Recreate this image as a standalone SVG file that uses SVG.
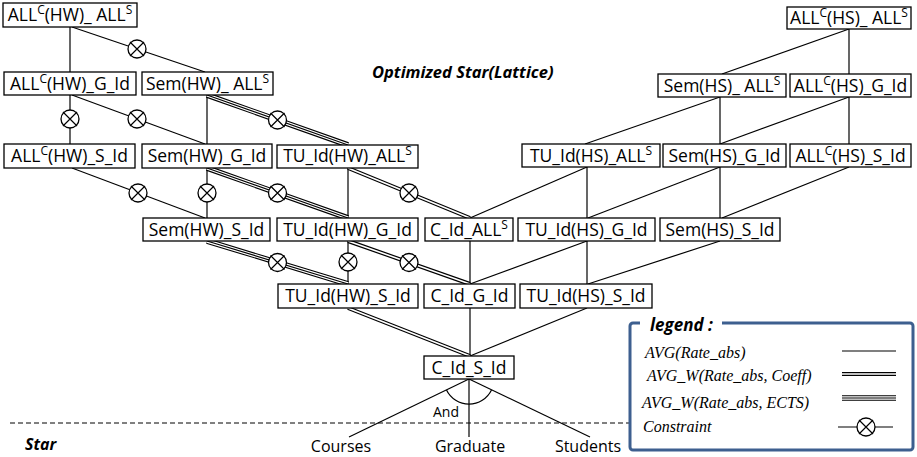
<svg xmlns="http://www.w3.org/2000/svg" width="917" height="457" viewBox="0 0 917 457">
<style>
.box{fill:#fff;stroke:#000;stroke-width:1.3}
.lbl{font-family:"Open Sans","Noto Sans",sans-serif;font-size:17.5px;text-anchor:middle;fill:#000}
.sup{font-size:12px}
.s{stroke:#000;stroke-width:1.2;fill:none}
.d0{stroke:#000;stroke-width:4}
.d1{stroke:#fff;stroke-width:1.6}
.t0{stroke:#000;stroke-width:5.6}
.t1{stroke:#fff;stroke-width:3.4}
.t2{stroke:#000;stroke-width:1.1}
.bi{font-family:"Open Sans","Noto Sans",sans-serif;font-weight:bold;font-style:italic;fill:#000}
.leg{font-family:"Liberation Serif",serif;font-style:italic;font-size:16px;fill:#000}
.plain{font-family:"Open Sans","Noto Sans",sans-serif;fill:#000;text-anchor:middle}
</style>
<defs>
<g id="cx"><circle r="9" fill="#fff" stroke="#000" stroke-width="1.3"/><path d="M-7,-7L7,7M7,-7L-7,7" stroke="#000" stroke-width="1.2"/></g>
</defs>
<rect width="917" height="457" fill="#fff"/>

<g id="connectors">
<g class="s">
<line x1="70" y1="27" x2="70" y2="72"/>
<line x1="72" y1="27" x2="205" y2="72"/>
<line x1="70" y1="95" x2="70" y2="144"/>
<line x1="72" y1="95" x2="205" y2="144"/>
<line x1="207" y1="95" x2="207" y2="144"/>
<line x1="72" y1="168" x2="205" y2="218"/>
<line x1="207" y1="168" x2="207" y2="218"/>
<line x1="348" y1="168" x2="348" y2="218"/>
<line x1="587" y1="167" x2="470" y2="218"/>
<line x1="470" y1="241" x2="470" y2="284"/>
<line x1="348" y1="241" x2="348" y2="284"/>
<line x1="587" y1="241" x2="470" y2="284"/>
<line x1="587" y1="167" x2="587" y2="218"/>
<line x1="720" y1="167" x2="588" y2="218"/>
<line x1="720" y1="167" x2="720" y2="218"/>
<line x1="849" y1="167" x2="722" y2="218"/>
<line x1="587" y1="241" x2="587" y2="284"/>
<line x1="720" y1="241" x2="588" y2="284"/>
<line x1="470" y1="308" x2="470" y2="356"/>
<line x1="587" y1="308" x2="470" y2="356"/>
<line x1="849" y1="29" x2="849" y2="74"/>
<line x1="849" y1="29" x2="722" y2="74"/>
<line x1="720" y1="97" x2="720" y2="144"/>
<line x1="720" y1="97" x2="585" y2="144"/>
<line x1="849" y1="97" x2="720" y2="144"/>
<line x1="849" y1="97" x2="849" y2="144"/>
<line x1="469" y1="379" x2="349" y2="437"/>
<line x1="469" y1="379" x2="469" y2="437"/>
<line x1="469" y1="379" x2="590" y2="437"/>
<path d="M446.5,390 A25,25 0 0 0 491.5,390"/>
</g>
<g>
<line class="t0" x1="207" y1="95" x2="348" y2="145"/><line class="t1" x1="207" y1="95" x2="348" y2="145"/><line class="t2" x1="207" y1="95" x2="348" y2="145"/>
<line class="t0" x1="207" y1="168" x2="348" y2="218"/><line class="t1" x1="207" y1="168" x2="348" y2="218"/><line class="t2" x1="207" y1="168" x2="348" y2="218"/>
<line class="t0" x1="207" y1="241" x2="348" y2="284"/><line class="t1" x1="207" y1="241" x2="348" y2="284"/><line class="t2" x1="207" y1="241" x2="348" y2="284"/>
</g>
<g>
<line class="d0" x1="348" y1="168" x2="470" y2="218"/><line class="d1" x1="348" y1="168" x2="470" y2="218"/>
<line class="d0" x1="348" y1="241" x2="470" y2="284"/><line class="d1" x1="348" y1="241" x2="470" y2="284"/>
<line class="d0" x1="348" y1="308" x2="470" y2="356"/><line class="d1" x1="348" y1="308" x2="470" y2="356"/>
</g>
<use href="#cx" x="137" y="49"/>
<use href="#cx" x="70" y="119"/>
<use href="#cx" x="137" y="119"/>
<use href="#cx" x="277.5" y="120"/>
<use href="#cx" x="138" y="193"/>
<use href="#cx" x="207" y="193"/>
<use href="#cx" x="277.5" y="193"/>
<use href="#cx" x="409" y="193"/>
<use href="#cx" x="277.5" y="262.5"/>
<use href="#cx" x="348" y="262"/>
<use href="#cx" x="409" y="262.5"/>
</g>

<g id="n-allc-hw-alls"><rect class="box" x="3" y="3" width="134" height="24"/><text class="lbl" x="70" y="21">ALL<tspan class="sup" dy="-7">C</tspan><tspan dy="7">(HW)_ ALL</tspan><tspan class="sup" dy="-7">S</tspan></text></g>
<g id="n-allc-hw-gid"><rect class="box" x="4" y="72" width="132" height="23"/><text class="lbl" x="70" y="90">ALL<tspan class="sup" dy="-7">C</tspan><tspan dy="7">(HW)_G_Id</tspan></text></g>
<g id="n-sem-hw-alls"><rect class="box" x="142" y="72" width="131" height="23"/><text class="lbl" x="207.5" y="90">Sem(HW)_ ALL<tspan class="sup" dy="-7">S</tspan></text></g>
<g id="n-allc-hw-sid"><rect class="box" x="4" y="144" width="131" height="24"/><text class="lbl" x="69.5" y="162">ALL<tspan class="sup" dy="-7">C</tspan><tspan dy="7">(HW)_S_Id</tspan></text></g>
<g id="n-sem-hw-gid"><rect class="box" x="142" y="144" width="130" height="24"/><text class="lbl" x="207" y="162">Sem(HW)_G_Id</text></g>
<g id="n-tu-hw-alls"><rect class="box" x="277" y="145" width="141" height="23"/><text class="lbl" x="347.5" y="162">TU_Id(HW)_ALL<tspan class="sup" dy="-7">S</tspan></text></g>
<g id="n-tu-hs-alls"><rect class="box" x="522" y="144" width="138" height="23"/><text class="lbl" x="591" y="162">TU_Id(HS)_ALL<tspan class="sup" dy="-7">S</tspan></text></g>
<g id="n-sem-hs-gid"><rect class="box" x="663" y="144" width="123" height="23"/><text class="lbl" x="724.5" y="162">Sem(HS)_G_Id</text></g>
<g id="n-allc-hs-sid"><rect class="box" x="790" y="144" width="121" height="23"/><text class="lbl" x="850.5" y="162">ALL<tspan class="sup" dy="-7">C</tspan><tspan dy="7">(HS)_S_Id</tspan></text></g>
<g id="n-allc-hs-alls"><rect class="box" x="787" y="7" width="124" height="22"/><text class="lbl" x="849" y="24">ALL<tspan class="sup" dy="-7">C</tspan><tspan dy="7">(HS)_ ALL</tspan><tspan class="sup" dy="-7">S</tspan></text></g>
<g id="n-sem-hs-alls"><rect class="box" x="658" y="74" width="128" height="23"/><text class="lbl" x="722" y="92">Sem(HS)_ ALL<tspan class="sup" dy="-7">S</tspan></text></g>
<g id="n-allc-hs-gid"><rect class="box" x="790" y="74" width="121" height="23"/><text class="lbl" x="850.5" y="92">ALL<tspan class="sup" dy="-7">C</tspan><tspan dy="7">(HS)_G_Id</tspan></text></g>
<g id="n-sem-hw-sid"><rect class="box" x="143" y="218" width="127" height="23"/><text class="lbl" x="206.5" y="236">Sem(HW)_S_Id</text></g>
<g id="n-tu-hw-gid"><rect class="box" x="277" y="218" width="141" height="23"/><text class="lbl" x="347.5" y="236">TU_Id(HW)_G_Id</text></g>
<g id="n-cid-alls"><rect class="box" x="425" y="218" width="88" height="23"/><text class="lbl" x="469" y="236">C_Id_ALL<tspan class="sup" dy="-7">S</tspan></text></g>
<g id="n-tu-hs-gid"><rect class="box" x="518" y="218" width="137" height="23"/><text class="lbl" x="586.5" y="236">TU_Id(HS)_G_Id</text></g>
<g id="n-sem-hs-sid"><rect class="box" x="660" y="218" width="120" height="23"/><text class="lbl" x="720" y="236">Sem(HS)_S_Id</text></g>
<g id="n-tu-hw-sid"><rect class="box" x="278" y="284" width="140" height="24"/><text class="lbl" x="348" y="302">TU_Id(HW)_S_Id</text></g>
<g id="n-cid-gid"><rect class="box" x="424" y="284" width="91" height="24"/><text class="lbl" x="469.5" y="302">C_Id_G_Id</text></g>
<g id="n-tu-hs-sid"><rect class="box" x="520" y="284" width="132" height="24"/><text class="lbl" x="586" y="302">TU_Id(HS)_S_Id</text></g>
<g id="n-cid-sid"><rect class="box" x="424" y="356" width="90" height="23"/><text class="lbl" x="469" y="374">C_Id_S_Id</text></g>

<text class="bi" x="372" y="78" font-size="16.5">Optimized Star(Lattice)</text>

<g id="star">
<line x1="10" y1="423" x2="630" y2="423" stroke="#000" stroke-width="1" stroke-dasharray="5,3"/>
<text class="bi" x="25" y="450" font-size="16">Star</text>
<text class="plain" x="446" y="417" font-size="14">And</text>
<text class="plain" x="341" y="452" font-size="16">Courses</text>
<text class="plain" x="470" y="452" font-size="16">Graduate</text>
<text class="plain" x="588" y="452" font-size="16">Students</text>
</g>

<g id="legend">
<rect x="630" y="323" width="283" height="127" rx="3" fill="#fff" stroke="#3d5f8f" stroke-width="3"/>
<rect x="640" y="318" width="82" height="10" fill="#fff"/>
<text class="bi" x="650" y="331" font-size="17">legend :</text>
<text class="leg" x="645" y="358">AVG(Rate_abs)</text>
<text class="leg" x="647" y="381">AVG_W(Rate_abs, Coeff)</text>
<text class="leg" x="642" y="408">AVG_W(Rate_abs, ECTS)</text>
<text class="leg" x="643" y="432">Constraint</text>
<line class="s" x1="842" y1="351" x2="896" y2="351"/>
<line class="d0" x1="842" y1="374" x2="896" y2="374"/><line class="d1" x1="842" y1="374" x2="896" y2="374"/>
<line class="t0" x1="842" y1="398" x2="896" y2="398"/><line class="t1" x1="842" y1="398" x2="896" y2="398"/><line class="t2" x1="842" y1="398" x2="896" y2="398"/>
<line class="s" x1="838" y1="427" x2="893" y2="427"/>
<use href="#cx" x="866" y="427"/>
</g>
</svg>
